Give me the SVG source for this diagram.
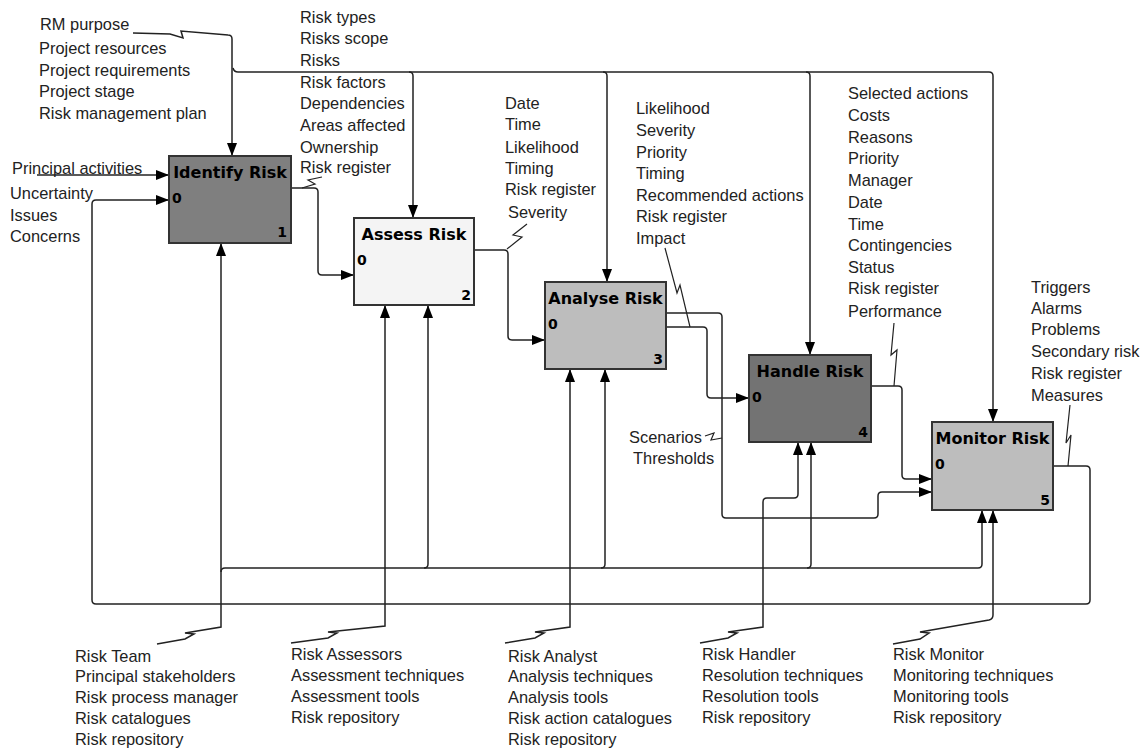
<svg xmlns="http://www.w3.org/2000/svg" width="1144" height="748" viewBox="0 0 1144 748">
<style>
.lbl{font-family:"Liberation Sans",Arial,sans-serif;font-size:16.4px;fill:#222}
.ttl{font-family:"DejaVu Sans",sans-serif;font-weight:bold;font-size:16px;text-anchor:middle;fill:#000}
.n0{font-family:"DejaVu Sans",sans-serif;font-weight:bold;font-size:14px;fill:#000}
.n1{font-family:"DejaVu Sans",sans-serif;font-weight:bold;font-size:14px;fill:#000;text-anchor:end}
.box{stroke:#333;stroke-width:2}
.c{fill:none;stroke:#222;stroke-width:1.5}
.a{marker-end:url(#ah)}
.z{fill:none;stroke:#222;stroke-width:1.2}
</style>
<defs>
<marker id="ah" viewBox="0 0 13 11" refX="13" refY="5.5" markerWidth="13" markerHeight="11" markerUnits="userSpaceOnUse" orient="auto">
<path d="M0,0.5 L13,5.5 L0,10.5 z" fill="#000"/>
</marker>
</defs>
<rect width="1144" height="748" fill="#fff"/>

<g id="connectors">
<!-- controls -->
<path class="c a" d="M133,33 L170,34 L183,38 L181,31 L228,35 Q232,35 232,39 V156"/>
<path class="c a" d="M233,68 Q234,72 238,72 H989 Q993,72 993,76 V422"/>
<path class="c a" d="M409,72 Q413,72 413,76 V218"/>
<path class="c a" d="M603,72 Q607,72 607,76 V282"/>
<path class="c a" d="M806,72 Q810,72 810,76 V355"/>
<!-- inputs -->
<path class="c a" d="M37,175 H169"/>
<path class="c a" d="M1053,466 H1086 Q1090,466 1090,470 V600 Q1090,604 1086,604 H96 Q92,604 92,600 V204 Q92,200 96,200 H169"/>
<!-- outputs -->
<path class="c a" d="M291,188 H314 Q318,188 318,192 V271 Q318,275 322,275 H354"/>
<path class="c a" d="M474,250 H504 Q508,250 508,254 V336 Q508,340 512,340 H545"/>
<path class="c a" d="M666,313 H718 Q722,313 722,317 V514 Q722,518 726,518 H874 Q878,518 878,514 V496 Q878,492 882,492 H932"/>
<path class="c a" d="M666,327 H703 Q707,327 707,331 V394 Q707,398 711,398 H749"/>
<path class="c a" d="M871,386 H898 Q902,386 902,390 V475 Q902,479 906,479 H932"/>
<!-- mechanisms -->
<path class="c a" d="M157,644 L185,639 L194,634 L185,633 L221,627 V243"/>
<path class="c a" d="M221,572 Q221,568 225,568 H978 Q982,568 982,564 V510"/>
<path class="c a" d="M424,568 Q428,568 428,564 V305"/>
<path class="c a" d="M601,568 Q605,568 605,564 V369"/>
<path class="c a" d="M807,568 Q811,568 811,564 V442"/>
<path class="c a" d="M291,643 L328,638 L337,633 L328,632 L385,626 V305"/>
<path class="c a" d="M505,643 L535,638 L544,633 L535,632 L570,627 V369"/>
<path class="c a" d="M700,643 L728,638 L737,633 L728,632 L763,627 V502 Q763,498 767,498 H794 Q798,498 798,494 V442"/>
<path class="c a" d="M893,644 L920,639 L929,633 L920,632 L989,620 Q993,619 993,615 V510"/>
<!-- label squiggles -->
<path class="z" d="M322,177 L308,180 L315,184 L302,188"/>
<path class="z" d="M527,224 L513,235 L522,237 L507,249"/>
<path class="z" d="M665,248 L677,293 L680,285 L690,327"/>
<path class="z" d="M894,323 L891,355 L897,350 L894,386"/>
<path class="z" d="M1070,405 L1066,443 L1071,435 L1068,466"/>
<path class="z" d="M705,436 L714,433 L711,440 L722,438"/>
</g>

<g id="node1">
<rect class="box" x="169" y="156" width="122" height="87" fill="#7f7f7f"/>
<text class="ttl" x="230" y="178">Identify Risk</text>
<text class="n0" x="172" y="203">0</text>
<text class="n1" x="287" y="237">1</text>
</g>
<g id="node2">
<rect class="box" x="354" y="218" width="120" height="87" fill="#f4f4f4"/>
<text class="ttl" x="414" y="240">Assess Risk</text>
<text class="n0" x="357" y="265">0</text>
<text class="n1" x="471" y="300">2</text>
</g>
<g id="node3">
<rect class="box" x="545" y="282" width="121" height="87" fill="#bdbdbd"/>
<text class="ttl" x="605.5" y="304">Analyse Risk</text>
<text class="n0" x="548" y="329">0</text>
<text class="n1" x="663" y="364">3</text>
</g>
<g id="node4">
<rect class="box" x="749" y="355" width="122" height="87" fill="#737373"/>
<text class="ttl" x="810" y="377">Handle Risk</text>
<text class="n0" x="752" y="402">0</text>
<text class="n1" x="868" y="437">4</text>
</g>
<g id="node5">
<rect class="box" x="932" y="422" width="121" height="88" fill="#bdbdbd"/>
<text class="ttl" x="992.5" y="444">Monitor Risk</text>
<text class="n0" x="935" y="469">0</text>
<text class="n1" x="1050" y="505">5</text>
</g>

<g id="labels">
<text class="lbl" x="40" y="30">RM purpose</text>
<text class="lbl" x="39" y="54">Project resources</text>
<text class="lbl" x="39" y="76">Project requirements</text>
<text class="lbl" x="39" y="97">Project stage</text>
<text class="lbl" x="39" y="119">Risk management plan</text>

<text class="lbl" x="12" y="174">Principal activities</text>
<text class="lbl" x="10" y="199">Uncertainty</text>
<text class="lbl" x="10" y="221">Issues</text>
<text class="lbl" x="10" y="242">Concerns</text>

<text class="lbl" x="300" y="23">Risk types</text>
<text class="lbl" x="300" y="44">Risks scope</text>
<text class="lbl" x="300" y="66">Risks</text>
<text class="lbl" x="300" y="88">Risk factors</text>
<text class="lbl" x="300" y="109">Dependencies</text>
<text class="lbl" x="300" y="131">Areas affected</text>
<text class="lbl" x="300" y="153">Ownership</text>
<text class="lbl" x="300" y="173">Risk register</text>

<text class="lbl" x="505" y="109">Date</text>
<text class="lbl" x="505" y="130">Time</text>
<text class="lbl" x="505" y="153">Likelihood</text>
<text class="lbl" x="505" y="174">Timing</text>
<text class="lbl" x="505" y="195">Risk register</text>
<text class="lbl" x="508" y="218">Severity</text>

<text class="lbl" x="636" y="114">Likelihood</text>
<text class="lbl" x="636" y="136">Severity</text>
<text class="lbl" x="636" y="158">Priority</text>
<text class="lbl" x="636" y="179">Timing</text>
<text class="lbl" x="636" y="201">Recommended actions</text>
<text class="lbl" x="636" y="222">Risk register</text>
<text class="lbl" x="636" y="244">Impact</text>

<text class="lbl" x="848" y="99">Selected actions</text>
<text class="lbl" x="848" y="121">Costs</text>
<text class="lbl" x="848" y="143">Reasons</text>
<text class="lbl" x="848" y="164">Priority</text>
<text class="lbl" x="848" y="186">Manager</text>
<text class="lbl" x="848" y="208">Date</text>
<text class="lbl" x="848" y="230">Time</text>
<text class="lbl" x="848" y="251">Contingencies</text>
<text class="lbl" x="848" y="273">Status</text>
<text class="lbl" x="848" y="294">Risk register</text>
<text class="lbl" x="848" y="317">Performance</text>

<text class="lbl" x="1031" y="293">Triggers</text>
<text class="lbl" x="1031" y="314">Alarms</text>
<text class="lbl" x="1031" y="335">Problems</text>
<text class="lbl" x="1031" y="357">Secondary risk</text>
<text class="lbl" x="1031" y="379">Risk register</text>
<text class="lbl" x="1031" y="401">Measures</text>

<text class="lbl" x="629" y="443">Scenarios</text>
<text class="lbl" x="633" y="464">Thresholds</text>

<text class="lbl" x="75" y="662">Risk Team</text>
<text class="lbl" x="75" y="682">Principal stakeholders</text>
<text class="lbl" x="75" y="703">Risk process manager</text>
<text class="lbl" x="75" y="724">Risk catalogues</text>
<text class="lbl" x="75" y="745">Risk repository</text>

<text class="lbl" x="291" y="660">Risk Assessors</text>
<text class="lbl" x="291" y="681">Assessment techniques</text>
<text class="lbl" x="291" y="702">Assessment tools</text>
<text class="lbl" x="291" y="723">Risk repository</text>

<text class="lbl" x="508" y="662">Risk Analyst</text>
<text class="lbl" x="508" y="682">Analysis techniques</text>
<text class="lbl" x="508" y="703">Analysis tools</text>
<text class="lbl" x="508" y="724">Risk action catalogues</text>
<text class="lbl" x="508" y="745">Risk repository</text>

<text class="lbl" x="702" y="660">Risk Handler</text>
<text class="lbl" x="702" y="681">Resolution techniques</text>
<text class="lbl" x="702" y="702">Resolution tools</text>
<text class="lbl" x="702" y="723">Risk repository</text>

<text class="lbl" x="893" y="660">Risk Monitor</text>
<text class="lbl" x="893" y="681">Monitoring techniques</text>
<text class="lbl" x="893" y="702">Monitoring tools</text>
<text class="lbl" x="893" y="723">Risk repository</text>
</g>
</svg>
